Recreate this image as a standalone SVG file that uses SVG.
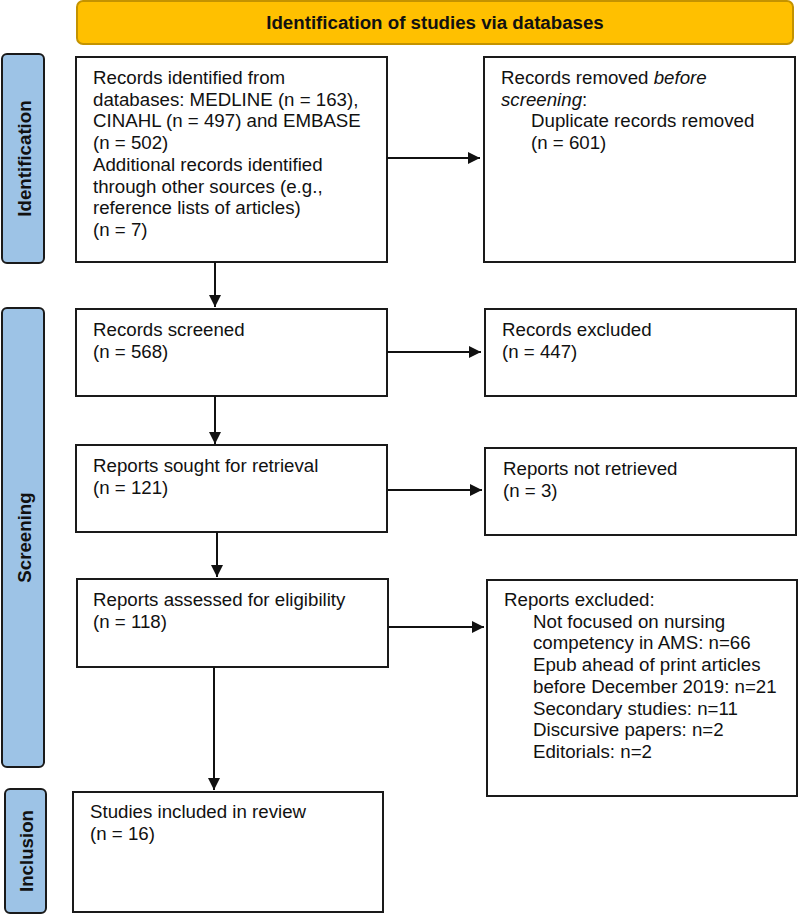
<svg xmlns="http://www.w3.org/2000/svg" width="799" height="916" viewBox="0 0 799 916">
<style>
  .box { fill: #ffffff; stroke: #1a1a1a; stroke-width: 2; }
  .side { fill: #9dc3e6; stroke: #1a1a1a; stroke-width: 2; }
  .hdr { fill: #ffc000; stroke: #c49300; stroke-width: 2; }
  .t { font-family: "Liberation Sans", Arial, sans-serif; font-size: 18.7px; fill: #111111; }
  .b { font-family: "Liberation Sans", Arial, sans-serif; font-size: 18.7px; font-weight: bold; fill: #111111; }
  .conn line { stroke: #111111; stroke-width: 2; fill: none; }
</style>
<defs>
  <marker id="ah" markerUnits="userSpaceOnUse" markerWidth="13" markerHeight="13" refX="12" refY="6" orient="auto">
    <path d="M0,0 L12,6 L0,12 z" fill="#111111"/>
  </marker>
</defs>
<rect width="799" height="916" fill="#ffffff"/>

<g id="header">
  <rect class="hdr" x="77" y="1" width="716" height="43" rx="6"/>
  <text class="b" x="435" y="28.5" text-anchor="middle">Identification of studies via databases</text>
</g>

<g id="side-identification">
  <rect class="side" x="2" y="54" width="42" height="209" rx="5"/>
  <text class="b" transform="translate(30.5,158.5) rotate(-90)" text-anchor="middle">Identification</text>
</g>
<g id="side-screening">
  <rect class="side" x="2" y="308" width="42" height="459" rx="5"/>
  <text class="b" transform="translate(31,537.5) rotate(-90)" text-anchor="middle">Screening</text>
</g>
<g id="side-inclusion">
  <rect class="side" x="5" y="789" width="41" height="124" rx="5"/>
  <text class="b" transform="translate(32.5,851) rotate(-90)" text-anchor="middle">Inclusion</text>
</g>

<g id="records-identified">
  <rect class="box" x="76" y="57" width="311" height="205"/>
  <text class="t" x="93" y="84">
    <tspan x="93" y="84">Records identified from</tspan>
    <tspan x="93" y="105.7">databases: MEDLINE (n = 163),</tspan>
    <tspan x="93" y="127.4">CINAHL (n = 497) and EMBASE</tspan>
    <tspan x="93" y="149.1">(n = 502)</tspan>
    <tspan x="93" y="170.8">Additional records identified</tspan>
    <tspan x="93" y="192.5">through other sources (e.g.,</tspan>
    <tspan x="93" y="214.2">reference lists of articles)</tspan>
    <tspan x="93" y="235.9">(n = 7)</tspan>
  </text>
</g>

<g id="records-removed">
  <rect class="box" x="484" y="57" width="311" height="205"/>
  <text class="t" x="501" y="84">
    <tspan x="501" y="84">Records removed <tspan font-style="italic">before</tspan></tspan>
    <tspan x="501" y="105.7"><tspan font-style="italic">screening</tspan>:</tspan>
    <tspan x="531" y="127.4">Duplicate records removed</tspan>
    <tspan x="531" y="149.1">(n = 601)</tspan>
  </text>
</g>

<g id="records-screened">
  <rect class="box" x="76" y="309" width="311" height="87"/>
  <text class="t"><tspan x="93" y="336">Records screened</tspan><tspan x="93" y="357.7">(n = 568)</tspan></text>
</g>

<g id="records-excluded">
  <rect class="box" x="485" y="309" width="311" height="87"/>
  <text class="t"><tspan x="502" y="336">Records excluded</tspan><tspan x="502" y="357.7">(n = 447)</tspan></text>
</g>

<g id="reports-sought">
  <rect class="box" x="76" y="445" width="311" height="87"/>
  <text class="t"><tspan x="93" y="472">Reports sought for retrieval</tspan><tspan x="93" y="493.7">(n = 121)</tspan></text>
</g>

<g id="reports-not-retrieved">
  <rect class="box" x="485" y="448" width="311" height="87"/>
  <text class="t"><tspan x="503" y="475">Reports not retrieved</tspan><tspan x="503" y="496.7">(n = 3)</tspan></text>
</g>

<g id="reports-assessed">
  <rect class="box" x="77" y="579" width="311" height="88"/>
  <text class="t"><tspan x="93" y="606">Reports assessed for eligibility</tspan><tspan x="93" y="627.7">(n = 118)</tspan></text>
</g>

<g id="reports-excluded">
  <rect class="box" x="487" y="580" width="310" height="216"/>
  <text class="t">
    <tspan x="504" y="606">Reports excluded:</tspan>
    <tspan x="533" y="627.7">Not focused on nursing</tspan>
    <tspan x="533" y="649.4">competency in AMS: n=66</tspan>
    <tspan x="533" y="671.1">Epub ahead of print articles</tspan>
    <tspan x="533" y="692.8">before December 2019: n=21</tspan>
    <tspan x="533" y="714.5">Secondary studies: n=11</tspan>
    <tspan x="533" y="736.2">Discursive papers: n=2</tspan>
    <tspan x="533" y="757.9">Editorials: n=2</tspan>
  </text>
</g>

<g id="studies-included">
  <rect class="box" x="73" y="792" width="310" height="120"/>
  <text class="t"><tspan x="90" y="818">Studies included in review</tspan><tspan x="90" y="839.7">(n = 16)</tspan></text>
</g>

<g id="connectors" class="conn">
  <line x1="387" y1="158" x2="480" y2="158" marker-end="url(#ah)"/>
  <line x1="215" y1="262" x2="215" y2="307" marker-end="url(#ah)"/>
  <line x1="387" y1="352" x2="481" y2="352" marker-end="url(#ah)"/>
  <line x1="215" y1="396" x2="215" y2="444" marker-end="url(#ah)"/>
  <line x1="388" y1="490" x2="482" y2="490" marker-end="url(#ah)"/>
  <line x1="217" y1="532" x2="217" y2="577" marker-end="url(#ah)"/>
  <line x1="389" y1="627" x2="484" y2="627" marker-end="url(#ah)"/>
  <line x1="214" y1="667" x2="214" y2="790" marker-end="url(#ah)"/>
</g>
</svg>
